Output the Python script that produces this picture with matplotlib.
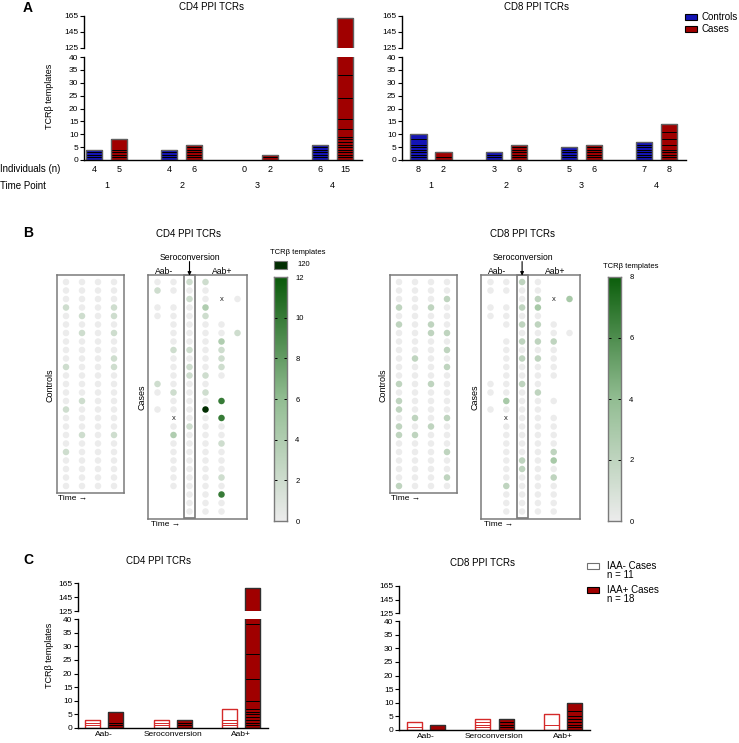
import numpy as np
import matplotlib
matplotlib.use('Agg')
import matplotlib.pyplot as plt
from matplotlib.colors import LinearSegmentedColormap
from matplotlib.patches import Rectangle
from matplotlib.transforms import blended_transform_factory

plt.rcParams['font.family'] = ['Liberation Sans', 'DejaVu Sans']
plt.rcParams['axes.linewidth'] = 1.0

W, H = 739, 743
BLUE = '#1414b4'
RED = '#a00000'
OPEN_RED = '#d42a2a'
DOT_GREY = '#ebebeb'
BOX_GREY = '#7a7a7a'

# ---------------- panel A: templates per individual, stacked ----------------
time_points = ['1', '2', '3', '4']
a_cd4_controls = [[1, 1, 1, 1], [1, 1, 1, 1], [], [1, 1, 1, 1, 1, 1]]
a_cd4_cases = [[1, 1, 1, 1, 4], [1, 1, 1, 1, 1, 1], [1, 1],
               [1, 1, 1, 1, 1, 1, 1, 1, 1, 3, 4, 8, 9, 37, 93]]
a_cd8_controls = [[1, 1, 1, 1, 1, 1, 2, 2], [1, 1, 1], [1, 1, 1, 1, 1],
                  [1, 1, 1, 1, 1, 1, 1]]
a_cd8_cases = [[1, 2], [1, 1, 1, 1, 1, 1], [1, 1, 1, 1, 1, 1],
               [1, 1, 1, 1, 2, 2, 3, 3]]
a_cd4_n_controls = [4, 4, 0, 6]
a_cd4_n_cases = [5, 6, 2, 15]
a_cd8_n_controls = [8, 3, 5, 7]
a_cd8_n_cases = [2, 6, 6, 8]

# ---------------- panel B: dot matrices (one string per column, one char per row)
# '.' no sample, 'x' excluded sample, digits = templates, 'A' = 10, 'H' = 120
LEVELS = {str(d): d for d in range(10)}
LEVELS.update({'A': 10, 'H': 120})

b_cd4_controls = ['0002000000200002000020000',
                  '0000202000000020002000000',
                  '0000000000000000000000000',
                  '0002202002200000002000000']
b_cd4_cases = ['02.00.......20.0............',
               '00.0000020000200x04000000...',
               '2020000020220000020000000000',
               '200420000002020H000000000000',
               '..x..0042220..A.A00200020A00',
               '..0...2.....................']
b_cd8_controls = ['0002020000002022022000002',
                  '0000000002000000202000000',
                  '0002022000002000020000000',
                  '0020002020200000200020020']
b_cd8_cases = ['00.00.......00.0............',
               '00.000.000000030x00000002000',
               '2002020202002000000002200000',
               '0023020202000200000000000000',
               '..x..0020000..0.000023020000',
               '..3...0.....................']
b_cd4_ticks = [0, 2, 4, 6, 8, 10, 12]
b_cd8_ticks = [0, 2, 4, 6, 8]

# ---------------- panel C: by autoantibody phase ----------------
c_groups = ['Aab-', 'Seroconversion', 'Aab+']
c_cd4_iaa_neg = [[1, 1, 1], [1, 1, 1], [1, 1, 1, 4]]
c_cd4_iaa_pos = [[1, 1, 4], [1, 1, 1], [1, 1, 1, 1, 1, 1, 1, 3, 8, 9, 11, 120]]
c_cd8_iaa_neg = [[1, 2], [1, 1, 1, 1], [2, 4]]
c_cd8_iaa_pos = [[2], [1, 1, 1, 1], [1, 1, 1, 1, 1, 2, 3]]

fig = plt.figure(figsize=(W / 100, H / 100), dpi=100)


def px_axes(x0, y0, x1, y1):
    return fig.add_axes([x0 / W, 1 - y1 / H, (x1 - x0) / W, (y1 - y0) / H])


def px_text(x, y, s, **kw):
    kw.setdefault('ha', 'center')
    kw.setdefault('va', 'center')
    return fig.text(x / W, 1 - y / H, s, **kw)


def px_rect(x0, y0, x1, y1, **kw):
    fig.add_artist(Rectangle((x0 / W, 1 - y1 / H), (x1 - x0) / W, (y1 - y0) / H,
                             transform=fig.transFigure, **kw))


def broken_axes(x0, x1, y165, y125, y40, y0, xlim):
    top = px_axes(x0, y165, x1, y125)
    bot = px_axes(x0, y40, x1, y0)
    top.set_ylim(125, 165)
    top.set_yticks([125, 145, 165])
    bot.set_ylim(0, 40)
    bot.set_yticks(np.arange(0, 41, 5))
    for ax in (top, bot):
        ax.set_xlim(xlim)
        ax.spines[['top', 'right']].set_visible(False)
        ax.tick_params(axis='y', length=3, width=0.8, pad=1, labelsize=6)
        ax.tick_params(axis='x', length=0)
        ax.patch.set_visible(False)
    top.spines['bottom'].set_visible(False)
    top.set_xticks([])
    bot.set_xticks([])
    return top, bot


def stacked_bar(axes, x, segments, width, face, lines, outline):
    if not segments:
        return
    bottoms = np.cumsum([0] + segments[:-1])
    for ax in axes:
        ax.bar(x, segments, width, bottom=bottoms, color=face,
               edgecolor=lines, linewidth=0.7)
        ax.bar(x, sum(segments), width, fill=False, edgecolor=outline,
               linewidth=1.0)


def matrix_axes(x0, y0, x1, y1, col0, col_step):
    ax = px_axes(x0, y0, x1, y1)
    ax.set_xlim((x0 - col0) / col_step, (x1 - col0) / col_step)
    ax.set_ylim((y1 - 282) / 8.5, (y0 - 282) / 8.5)
    ax.set_xticks([])
    ax.set_yticks([])
    for sp in ax.spines.values():
        sp.set_color(BOX_GREY)
        sp.set_linewidth(1.1)
    return ax


def draw_matrix(ax, columns, cmap, vmax):
    xs, ys, vals = [], [], []
    for j, col in enumerate(columns):
        for i, ch in enumerate(col):
            if ch == '.':
                continue
            if ch == 'x':
                ax.text(j, i, 'x', ha='center', va='center', fontsize=5.5,
                        color='#222222')
                continue
            xs.append(j)
            ys.append(i)
            vals.append(LEVELS[ch])
    ax.scatter(xs, ys, c=vals, cmap=cmap, vmin=0, vmax=vmax, s=22,
               linewidths=0, clip_on=False)


def colorbar(x0, y0, x1, y1, cmap, ticks):
    vmax = ticks[-1]
    cax = px_axes(x0, y0, x1, y1)
    grad = np.linspace(0, vmax, 256).reshape(-1, 1)
    cax.imshow(grad, cmap=cmap, vmin=0, vmax=vmax, origin='lower',
               aspect='auto', extent=[0, 1, 0, vmax])
    cax.set_xticks([])
    cax.set_yticks(ticks)
    cax.yaxis.tick_right()
    cax.tick_params(axis='y', direction='in', length=2, width=0.7, left=True,
                    right=True, labelsize=5.5, pad=6)
    for sp in cax.spines.values():
        sp.set_color(BOX_GREY)
    return cax


# ======================= panel A =======================
px_text(28, 8, 'A', fontsize=10, fontweight='bold')
panel_a = [
    (84, 362, (-0.299, 3.393), 212, 'CD4 PPI TCRs', a_cd4_controls, a_cd4_cases,
     a_cd4_n_controls, a_cd4_n_cases),
    (402, 686, (-0.386, 3.391), 537, 'CD8 PPI TCRs', a_cd8_controls, a_cd8_cases,
     a_cd8_n_controls, a_cd8_n_cases),
]
for x0, x1, xlim, tx, title, ctrl, case, n_ctrl, n_case in panel_a:
    top, bot = broken_axes(x0, x1, 16, 48, 57, 160, xlim)
    px_text(tx, 7, title, fontsize=7)
    trans = blended_transform_factory(bot.transData, fig.transFigure)
    for g in range(len(time_points)):
        stacked_bar((top, bot), g - 0.166, ctrl[g], 0.215, BLUE, 'black', '#606060')
        stacked_bar((top, bot), g + 0.166, case[g], 0.215, RED, 'black', '#606060')
        bot.text(g - 0.166, 1 - 169 / H, str(n_ctrl[g]), transform=trans,
                 ha='center', va='center', fontsize=6.5)
        bot.text(g + 0.166, 1 - 169 / H, str(n_case[g]), transform=trans,
                 ha='center', va='center', fontsize=6.5)
        bot.text(g, 1 - 186 / H, time_points[g], transform=trans,
                 ha='center', va='center', fontsize=6.5)

px_text(49, 96, 'TCRβ templates', fontsize=6.5, rotation=90)
px_text(0, 169, 'Individuals (n)', fontsize=7, ha='left')
px_text(0, 186, 'Time Point', fontsize=7, ha='left')

# legend A
for y, color, label in [(17, BLUE, 'Controls'), (29, RED, 'Cases')]:
    px_rect(685, y - 3, 697, y + 3, facecolor=color, edgecolor='black', linewidth=0.8)
    px_text(702, y, label, fontsize=7, ha='left')

# ======================= panel B =======================
px_text(28, 233, 'B', fontsize=10, fontweight='bold')
cd4_cmap = LinearSegmentedColormap.from_list(
    'cd4', ['#ececec', '#92bd92', '#0a5a0a']).with_extremes(over='#012d01')
cd8_cmap = LinearSegmentedColormap.from_list(
    'cd8', ['#ececec', '#92bd92', '#0b5e0b'])

panel_b = [
    (0, 16, b_cd4_controls, b_cd4_cases, cd4_cmap, b_cd4_ticks, 'CD4 PPI TCRs'),
    (333, 15.8, b_cd8_controls, b_cd8_cases, cd8_cmap, b_cd8_ticks, 'CD8 PPI TCRs'),
]
for dx, step, ctrl, case, cmap, ticks, title in panel_b:
    ax_c = matrix_axes(57 + dx, 275, 124 + dx, 493, 66 + dx, 16)
    draw_matrix(ax_c, ctrl, cmap, ticks[-1])
    ax_k = matrix_axes(148 + dx, 275, 247 + dx, 519, 157.5 + dx, step)
    draw_matrix(ax_k, case, cmap, ticks[-1])
    ax_k.add_patch(Rectangle((2 - 0.35, -0.82), 0.7, 28.55, fill=False,
                             edgecolor=BOX_GREY, linewidth=1.2, clip_on=False))
    ax_k.annotate('', xy=(2, -0.75), xytext=(2, -2.4), annotation_clip=False,
                  arrowprops=dict(arrowstyle='-|>', color='black', lw=0.8,
                                  mutation_scale=5, shrinkA=0, shrinkB=0))
    px_text(189 + dx, 234, title, fontsize=7)
    px_text(190 + dx, 257, 'Seroconversion', fontsize=6.2)
    px_text(164 + dx, 271, 'Aab-', fontsize=6.2)
    px_text(222 + dx, 271, 'Aab+', fontsize=6.2)
    px_text(50 + dx, 385, 'Controls', fontsize=6.5, rotation=90)
    px_text(142 + dx, 397, 'Cases', fontsize=6.5, rotation=90)
    px_text(58 + dx, 499, 'Time →', fontsize=6, ha='left')
    px_text(151 + dx, 525, 'Time →', fontsize=6, ha='left')

colorbar(274, 277, 287, 521, cd4_cmap, b_cd4_ticks)
px_rect(274, 261, 287, 269, facecolor='#012d01', edgecolor=BOX_GREY, linewidth=0.8)
px_text(297, 265, '120', fontsize=5.5, ha='left')
px_text(298, 252, 'TCRβ templates', fontsize=5.5)
colorbar(608, 277, 621, 521, cd8_cmap, b_cd8_ticks)
px_text(631, 266, 'TCRβ templates', fontsize=5.5)

# ======================= panel C =======================
px_text(28, 560, 'C', fontsize=10, fontweight='bold')
panel_c = [
    (78, 268, 583, 611, 619, 728, (-0.38, 2.394), 159, 561, 'CD4 PPI TCRs',
     c_cd4_iaa_neg, c_cd4_iaa_pos),
    (399, 590, 586, 613, 621, 730, (-0.394, 2.394), 482, 563, 'CD8 PPI TCRs',
     c_cd8_iaa_neg, c_cd8_iaa_pos),
]
for x0, x1, y165, y125, y40, y0, xlim, tx, ty, title, neg, pos in panel_c:
    top, bot = broken_axes(x0, x1, y165, y125, y40, y0, xlim)
    px_text(tx, ty, title, fontsize=7)
    for g in range(len(c_groups)):
        stacked_bar((top, bot), g - 0.168, neg[g], 0.219, 'white', OPEN_RED, OPEN_RED)
        stacked_bar((top, bot), g + 0.168, pos[g], 0.219, RED, 'black', '#303030')
    bot.set_xticks(range(len(c_groups)))
    bot.set_xticklabels(c_groups, fontsize=6)
    bot.tick_params(axis='x', length=0, pad=2.5)

px_text(50, 655, 'TCRβ templates', fontsize=6.5, rotation=90)

# legend C
for y, face, edge, label, n in [(566, 'white', '#707070', 'IAA- Cases', 'n = 11'),
                                (590, RED, 'black', 'IAA+ Cases', 'n = 18')]:
    px_rect(587, y - 3, 599, y + 3, facecolor=face, edgecolor=edge, linewidth=0.8)
    px_text(607, y, label, fontsize=7, ha='left')
    px_text(607, y + 9.5, n, fontsize=7, ha='left')

fig.savefig('out.png', dpi=100, facecolor='white')
